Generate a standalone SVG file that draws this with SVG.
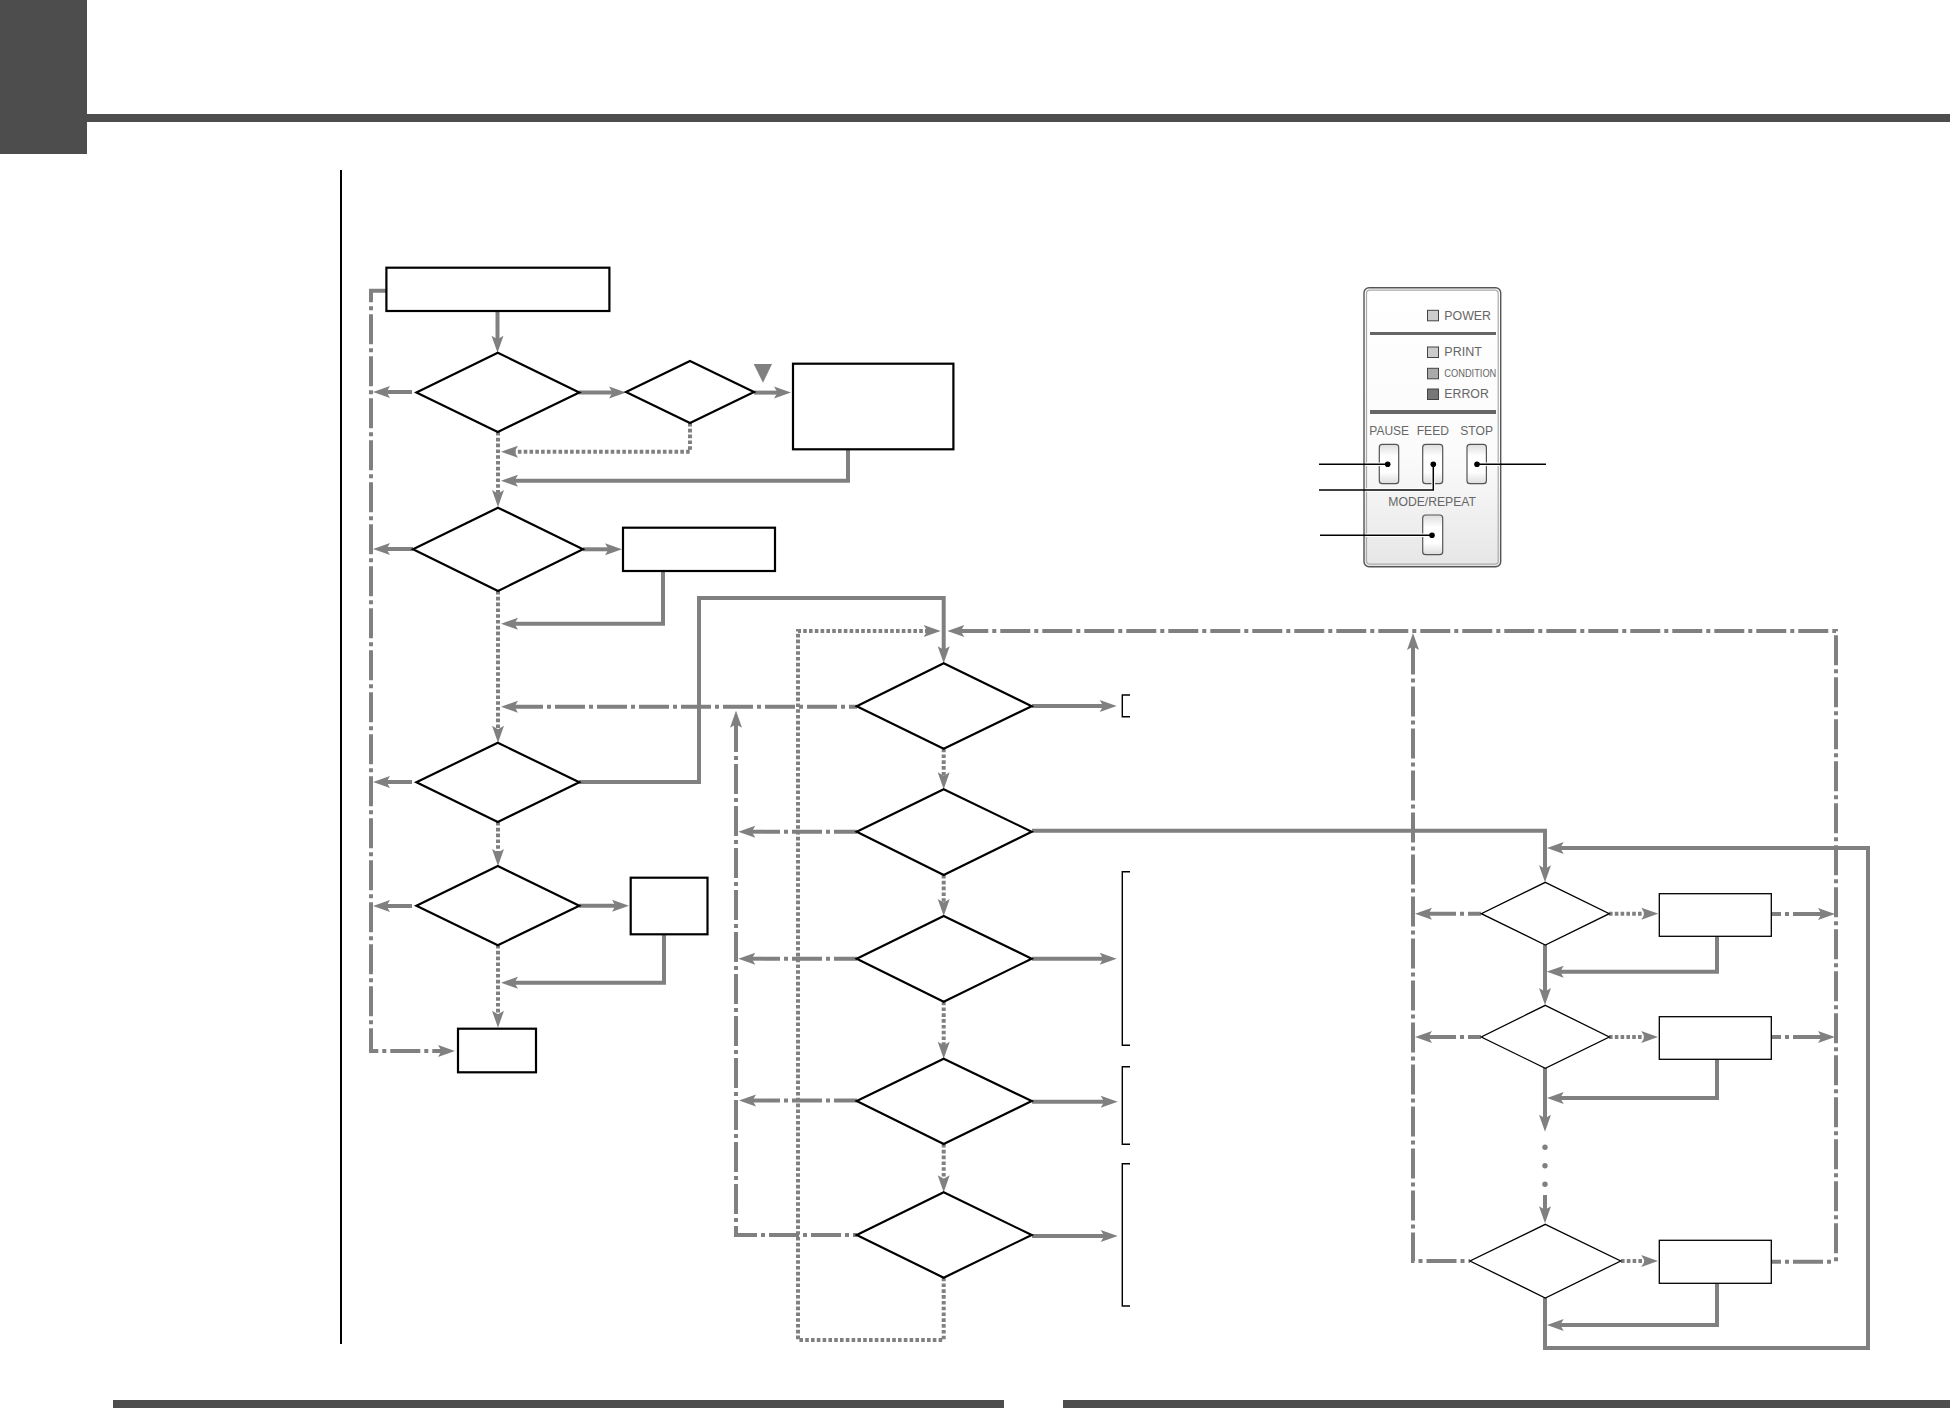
<svg xmlns="http://www.w3.org/2000/svg" width="1950" height="1425" viewBox="0 0 1950 1425">
<style>
.c{fill:none;stroke:#808080;stroke-width:4;marker-end:url(#ah)}
.n{marker-end:none}
.d{stroke-dasharray:3.6 2.2}
.a{stroke-dasharray:30 4 4 4}
.node{fill:#fff;stroke:#000;stroke-width:2.2}
.thin{fill:#fff;stroke:#000;stroke-width:1.3}
.br{fill:none;stroke:#000;stroke-width:1.4}
.bar{fill:#4d4d4d}
.led{stroke:#444;stroke-width:1}
.btn{fill:url(#bg);stroke:#555;stroke-width:1.2}
.lbl{font-family:"Liberation Sans",Arial,sans-serif;font-size:12px;fill:#666}
.lead{fill:none;stroke:#000;stroke-width:1.5}
.halo{fill:none;stroke:#fff;stroke-width:3.6}
</style>
<defs>
<marker id="ah" markerUnits="userSpaceOnUse" viewBox="0 0 20 14" markerWidth="20" markerHeight="14" refX="10" refY="7" orient="auto"><path d="M20,7 L3,1 L6.5,7 L3,13 Z" fill="#808080"/></marker>
<linearGradient id="pg" x1="0" y1="0" x2="0" y2="1"><stop offset="0" stop-color="#fff"/><stop offset="0.6" stop-color="#fbfbfb"/><stop offset="1" stop-color="#e6e6e6"/></linearGradient>
<linearGradient id="bg" x1="0" y1="0" x2="0" y2="1"><stop offset="0" stop-color="#ddd"/><stop offset="0.3" stop-color="#fff"/><stop offset="0.7" stop-color="#fff"/><stop offset="1" stop-color="#ddd"/></linearGradient>
</defs>
<rect width="1950" height="1425" fill="#fff"/>
<g id="page-frame">
<rect class="bar" x="0" y="0" width="87" height="154"/>
<rect class="bar" x="87" y="114" width="1863" height="8"/>
<rect class="bar" x="113" y="1400" width="891" height="8"/>
<rect class="bar" x="1063" y="1400" width="887" height="8"/>
<rect x="340" y="170" width="2" height="1174" fill="#000"/>
</g>
<g id="connectors">
<path class="c" d="M497.5,311 V342.7"/>
<path class="c" d="M579,392.6 H616"/>
<path class="c" d="M754,392.6 H781"/>
<path class="c" d="M848,449 V480.7 H511"/>
<path class="c" d="M583,549.3 H612"/>
<path class="c" d="M663,571 V623.7 H511"/>
<path class="c" d="M579,782 H699 V598 H943.7 V653.3"/>
<path class="c" d="M579,905.7 H619"/>
<path class="c" d="M664,934 V982.7 H511"/>
<path class="c" d="M1032,706 H1106.7"/>
<path class="c" d="M1032,830.7 H1545 V872.3"/>
<path class="c" d="M1032,958.7 H1106.7"/>
<path class="c" d="M1032,1101.7 H1107.7"/>
<path class="c" d="M1032,1236 H1107.7"/>
<path class="c" d="M1545,945 V995"/>
<path class="c" d="M1545,1068 V1121.7"/>
<path class="c" d="M1545,1195 V1213.3"/>
<path class="c" d="M1545,1298 V1348 H1868 V848 H1556.7"/>
<path class="c" d="M1717,936.3 V971.7 H1556.7"/>
<path class="c" d="M1717,1059.3 V1098 H1556.7"/>
<path class="c" d="M1717,1283.3 V1325 H1556.7"/>
<path class="c d" d="M690,423 V451.7 H511"/>
<path class="c d" d="M498,432 V497"/>
<path class="c d" d="M498,591 V732.7"/>
<path class="c d" d="M498,822 V856"/>
<path class="c d" d="M498,945 V1017.7"/>
<path class="c d" d="M943.7,748.7 V779.3"/>
<path class="c d" d="M943.7,875 V906"/>
<path class="c d" d="M943.7,1001.7 V1048.7"/>
<path class="c d" d="M943.7,1144 V1182.3"/>
<path class="c d" d="M943.7,1277.7 V1340 H798 V631 H930.7"/>
<path class="c d" d="M1609,913.7 H1648.3"/>
<path class="c d" d="M1609,1037 H1648.3"/>
<path class="c d" d="M1621,1261 H1648.3"/>
<path class="c a" stroke-dashoffset="3.4" d="M386,290.7 H371 V1051 H445"/>
<path class="c a" d="M412,392 H383"/>
<path class="c a" d="M413,549 H383"/>
<path class="c a" d="M412,782 H383"/>
<path class="c a" d="M412,906 H383"/>
<path class="c a" stroke-dashoffset="22" d="M857,706.7 H511"/>
<path class="c a" stroke-dashoffset="7" d="M857,831.7 H748.3"/>
<path class="c a" stroke-dashoffset="7" d="M857,958.7 H748.3"/>
<path class="c a" stroke-dashoffset="7" d="M857,1100.5 H749"/>
<path class="c a" stroke-dashoffset="26" d="M857,1235 H736 V720.7"/>
<path class="c a" stroke-dashoffset="32.3" d="M1836,1263 V631 H957.3"/>
<path class="c a" stroke-dashoffset="28.5" d="M1470,1261 H1413 V643"/>
<path class="c a" stroke-dashoffset="17" d="M1481,913.7 H1425"/>
<path class="c a" stroke-dashoffset="17" d="M1481,1037 H1425"/>
<path class="c a" stroke-dashoffset="20" d="M1771,914 H1825"/>
<path class="c a" stroke-dashoffset="20" d="M1771,1037 H1825"/>
<path class="c a n" stroke-dashoffset="20" d="M1771,1261.7 H1832"/>
<g fill="#808080"><circle cx="1545" cy="1147.3" r="2.7"/><circle cx="1545" cy="1165.7" r="2.7"/><circle cx="1545" cy="1184.3" r="2.7"/></g>
<polygon points="753.7,364 772,364 763,382.7" fill="#808080"/>
</g>
<g id="start"><rect class="node" x="386.4" y="267.7" width="223" height="43.3"/></g>
<g id="d1"><polygon class="node" points="497.8,352.7 579.3,392.4 497.8,432 416.4,392.4"/></g>
<g id="d2"><polygon class="node" points="690,361 754,392 690,423 626,392"/></g>
<g id="r1"><rect class="node" x="793" y="363.7" width="160.4" height="85.6"/></g>
<g id="d3"><polygon class="node" points="498,507.7 583,549.3 498,591 413,549.3"/></g>
<g id="r2"><rect class="node" x="623" y="527.7" width="152" height="43.3"/></g>
<g id="d4"><polygon class="node" points="497.8,742.7 579.3,782.3 497.8,822 416.4,782.3"/></g>
<g id="d5"><polygon class="node" points="497.8,866 579.3,905.7 497.8,945.3 416.4,905.7"/></g>
<g id="r3"><rect class="node" x="630.7" y="877.7" width="76.8" height="56.6"/></g>
<g id="end"><rect class="node" x="458" y="1028.7" width="78" height="43.6"/></g>
<g id="m1"><polygon class="node" points="943.7,663.3 1031.7,706.2 943.7,748.7 856.7,706.2"/></g>
<g id="m2"><polygon class="node" points="943.7,789.3 1031.7,831.7 943.7,875 856.7,831.7"/></g>
<g id="m3"><polygon class="node" points="943.7,916 1031.7,958.7 943.7,1001.7 856.7,958.7"/></g>
<g id="m4"><polygon class="node" points="943.7,1058.7 1031.7,1101 943.7,1144 856.7,1101"/></g>
<g id="m5"><polygon class="node" points="943.7,1192.3 1031.7,1235 943.7,1277.7 856.7,1235"/></g>
<g id="brackets">
<path class="br" d="M1130,695 H1122.3 V716.7 H1130"/>
<path class="br" d="M1130,871.7 H1122.3 V1045.3 H1130"/>
<path class="br" d="M1130,1066.7 H1122.3 V1144.3 H1130"/>
<path class="br" d="M1130,1163.7 H1122.3 V1306 H1130"/>
</g>
<g id="qa"><polygon class="thin" points="1545.3,882.3 1609.3,913.7 1545.3,945 1481.3,913.7"/></g>
<g id="ra"><rect class="thin" x="1659.3" y="893.7" width="112" height="42.6"/></g>
<g id="qb"><polygon class="thin" points="1545.3,1005.3 1609.3,1037 1545.3,1068.3 1481.3,1037"/></g>
<g id="rb"><rect class="thin" x="1659.3" y="1016.7" width="112" height="42.6"/></g>
<g id="qc"><polygon class="thin" points="1545.3,1224.3 1620.7,1261 1545.3,1298 1470,1261"/></g>
<g id="rc"><rect class="thin" x="1659.3" y="1240.3" width="112" height="43"/></g>
<g id="panel">
<rect x="1364" y="287.7" width="136.7" height="279" rx="5" fill="url(#pg)" stroke="#555" stroke-width="1.4"/>
<rect x="1366.5" y="290.2" width="131.7" height="274" rx="3.5" fill="none" stroke="#aaa" stroke-width="1.2"/>
<rect x="1370" y="332" width="126" height="3" fill="#666"/>
<rect x="1370" y="410" width="126" height="4" fill="#666"/>
<rect class="led" x="1427.5" y="310.3" width="11" height="10.5" fill="#ccc"/>
<rect class="led" x="1427.5" y="347" width="11" height="10.5" fill="#ccc"/>
<rect class="led" x="1427.5" y="368.3" width="11" height="10.5" fill="#aaa"/>
<rect class="led" x="1427.5" y="389" width="11" height="10.5" fill="#777"/>
<text class="lbl" x="1444.3" y="319.5" textLength="46.7" lengthAdjust="spacingAndGlyphs">POWER</text>
<text class="lbl" x="1444.3" y="356" textLength="37.5" lengthAdjust="spacingAndGlyphs">PRINT</text>
<text class="lbl" x="1444.3" y="377" textLength="52" lengthAdjust="spacingAndGlyphs" style="font-size:11.5px">CONDITION</text>
<text class="lbl" x="1444.3" y="398" textLength="44.5" lengthAdjust="spacingAndGlyphs">ERROR</text>
<text class="lbl" x="1369.3" y="435" textLength="39.7" lengthAdjust="spacingAndGlyphs">PAUSE</text>
<text class="lbl" x="1416.7" y="435" textLength="32.3" lengthAdjust="spacingAndGlyphs">FEED</text>
<text class="lbl" x="1460.3" y="435" textLength="32.7" lengthAdjust="spacingAndGlyphs">STOP</text>
<text class="lbl" x="1388.3" y="506" textLength="87.7" lengthAdjust="spacingAndGlyphs">MODE/REPEAT</text>
<rect class="btn" x="1379.3" y="444.3" width="19.4" height="39.4" rx="3"/>
<rect class="btn" x="1422.7" y="444.3" width="20" height="39.4" rx="3"/>
<rect class="btn" x="1467" y="444.3" width="19.4" height="39.4" rx="3"/>
<rect class="btn" x="1422.7" y="515" width="20" height="39.7" rx="3"/>
</g>
<g id="leaders">
<path class="halo" d="M1366,464.3 H1387.7"/>
<path class="halo" d="M1366,490 H1433.3 V464.3"/>
<path class="halo" d="M1477,464.3 H1499"/>
<path class="halo" d="M1366,535.3 H1432"/>
<path class="lead" d="M1319,464.3 H1387.7"/>
<path class="lead" d="M1319,490 H1433.3 V464.3"/>
<path class="lead" d="M1477,464.3 H1546"/>
<path class="lead" d="M1320,535.3 H1432"/>
<circle cx="1387.7" cy="464.3" r="2.8"/>
<circle cx="1433.3" cy="464.3" r="2.8"/>
<circle cx="1477" cy="464.3" r="2.8"/>
<circle cx="1432" cy="535.3" r="2.8"/>
</g>
</svg>
